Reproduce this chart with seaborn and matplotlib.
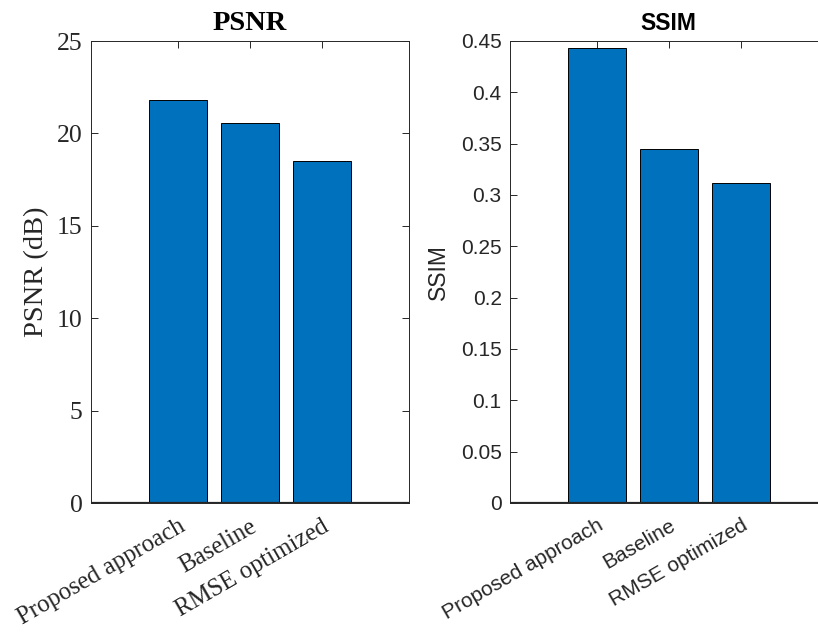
import matplotlib
matplotlib.use("Agg")
import matplotlib.pyplot as plt
import seaborn as sns
import pandas as pd

# Methods compared and their scores
methods = ["Proposed approach", "Baseline", "RMSE optimized"]
psnr_db = [21.8, 20.58, 18.5]
ssim = [0.443, 0.345, 0.312]

psnr_ticks = [0, 5, 10, 15, 20, 25]
ssim_ticks = [0, 0.05, 0.1, 0.15, 0.2, 0.25, 0.3, 0.35, 0.4, 0.45]
ssim_ticklabels = ["0", "0.05", "0.1", "0.15", "0.2", "0.25", "0.3", "0.35", "0.4", "0.45"]

sns.set_theme(style="white")
BAR = "#0072BD"
AX = "#262626"

fig = plt.figure(figsize=(8.18, 6.33), dpi=100)
ax1 = fig.add_axes([91 / 818, 130 / 633, 318 / 818, 462 / 633])
ax2 = fig.add_axes([510 / 818, 130 / 633, 316 / 818, 462 / 633])

df_psnr = pd.DataFrame({"method": methods, "value": psnr_db})
df_ssim = pd.DataFrame({"method": methods, "value": ssim})


def style_axes(ax, family, tick_size, xtick_size, label_size, ylim, yticks,
               yticklabels, title, ylabel, label_x, xmax, ypad, xpad):
    ax.set_xlim(-1.21, xmax)
    ax.set_ylim(*ylim)
    ax.set_yticks(yticks)
    ax.set_yticklabels(yticklabels, family=family, fontsize=tick_size, color=AX)
    ax.set_xticks(range(len(methods)))
    ax.set_xticklabels(methods, family=family, fontsize=xtick_size, color=AX,
                       rotation=30, ha="right", va="top", rotation_mode="anchor")
    ax.tick_params(axis="both", direction="in", length=5, width=0.7, color=AX,
                   top=True, right=True, bottom=True, left=True)
    ax.tick_params(axis="y", pad=ypad)
    ax.tick_params(axis="x", pad=xpad)
    for s in ax.spines.values():
        s.set_visible(True)
        s.set_color(AX)
        s.set_linewidth(0.7)
    ax.axhline(0, color=AX, lw=1.6, zorder=5)
    ax.set_xlabel("")
    ax.set_ylabel(ylabel, family=family, fontsize=label_size, color=AX)
    ax.yaxis.set_label_coords(label_x, 0.5)
    ax.set_title(title, family=family, fontsize=label_size, fontweight="bold",
                 color="black", pad=8)
    ax.grid(False)


sns.barplot(data=df_psnr, x="method", y="value", ax=ax1, color=BAR,
            saturation=1, width=0.8, edgecolor="black", linewidth=0.7)
sns.barplot(data=df_ssim, x="method", y="value", ax=ax2, color=BAR,
            saturation=1, width=0.8, edgecolor="black", linewidth=0.7)

style_axes(ax1, "Liberation Serif", 18.5, 17.8, 20.5, (0, 25), psnr_ticks,
           [str(t) for t in psnr_ticks], "PSNR", "PSNR (dB)", -0.132, 3.21, 6, 9)
style_axes(ax2, "Liberation Sans", 15, 15, 16.5, (0, 0.45), ssim_ticks,
           ssim_ticklabels, "SSIM", "SSIM", -0.19, 3.18, 6, 9)

fig.savefig("out.png", dpi=100)
